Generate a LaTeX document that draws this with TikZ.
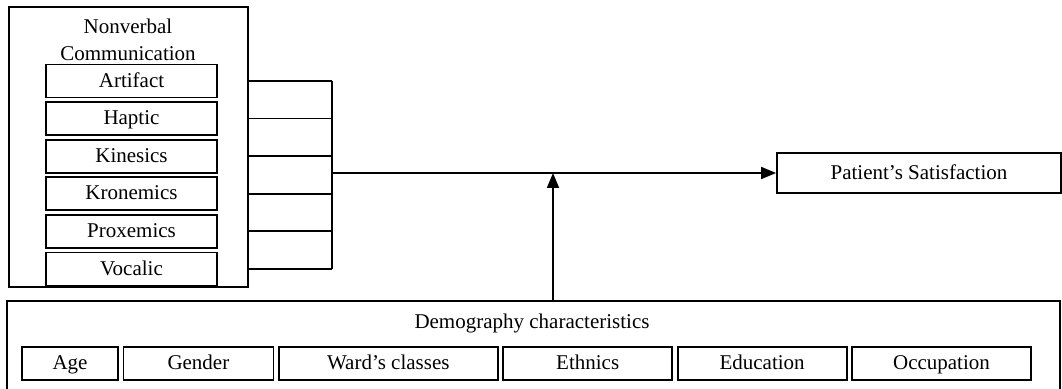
\documentclass[tikz,border=0pt]{standalone}
\usepackage{fontspec}
\setmainfont{Liberation Serif}
\usetikzlibrary{arrows.meta,positioning}

\begin{document}
\begin{tikzpicture}[x=0.5pt, y=-0.5pt, node distance=1.4pt, every node/.style={font=\fontsize{10.5}{13.5}\selectfont}, box/.style={draw, line width=0.9pt, inner sep=0pt, minimum height=16.5pt, text height=1.5ex, text depth=0.15ex}, item/.style={box, minimum width=85.5pt}, link/.style={line width=0.9pt}, arrow/.style={-{Triangle[length=7.5pt,width=6pt]}, line width=0.9pt}]
\useasboundingbox (0,0) rectangle (1062,389);
\clip (0,0) rectangle (1062,389);
% nonverbal communication block
\node[draw, line width=0.9pt, minimum width=119.5pt, minimum height=140pt] (nvc) at (128.5,147) {};
\node[align=center] (nvctitle) at (128,40) {Nonverbal\\Communication};
\node[item] (art) at (131.5,81) {Artifact};
\node[item, below=of art] (hap) {Haptic};
\node[item, below=of hap] (kin) {Kinesics};
\node[item, below=of kin] (kro) {Kronemics};
\node[item, below=of kro] (pro) {Proxemics};
\node[item, below=of pro] (voc) {Vocalic};
% outcome
\node[box, minimum width=142pt, minimum height=20pt] (sat) at (919,173) {Patient’s Satisfaction};
% demography block
\node[draw, line width=0.9pt, minimum width=526.5pt, minimum height=60pt] (demo) at (533.5,361) {};
\node (demotitle) at (532,323) {Demography characteristics};
\node[box, minimum width=48pt] (age) at (70,363.5) {Age};
\node[box, minimum width=75pt, right=1.8pt of age] (gen) {Gender};
\node[box, minimum width=109.5pt, right=1.8pt of gen] (ward) {Ward’s classes};
\node[box, minimum width=84.5pt, right=1.8pt of ward] (eth) {Ethnics};
\node[box, minimum width=84.5pt, right=1.8pt of eth] (edu) {Education};
\node[box, minimum width=89.5pt, right=1.8pt of edu] (occ) {Occupation};
% connectors
\coordinate (bus) at (332,173);
\coordinate (join) at (553,173);
\foreach \n in {art,hap,kin,kro,pro,voc}
  \draw[link] (nvc.east |- \n) -- (bus |- \n);
\draw[link] (bus |- art) -- (bus |- voc);
\draw[arrow] (bus) -- (sat);
\draw[arrow] (demo.north -| join) -- (join);
\end{tikzpicture}
\end{document}
